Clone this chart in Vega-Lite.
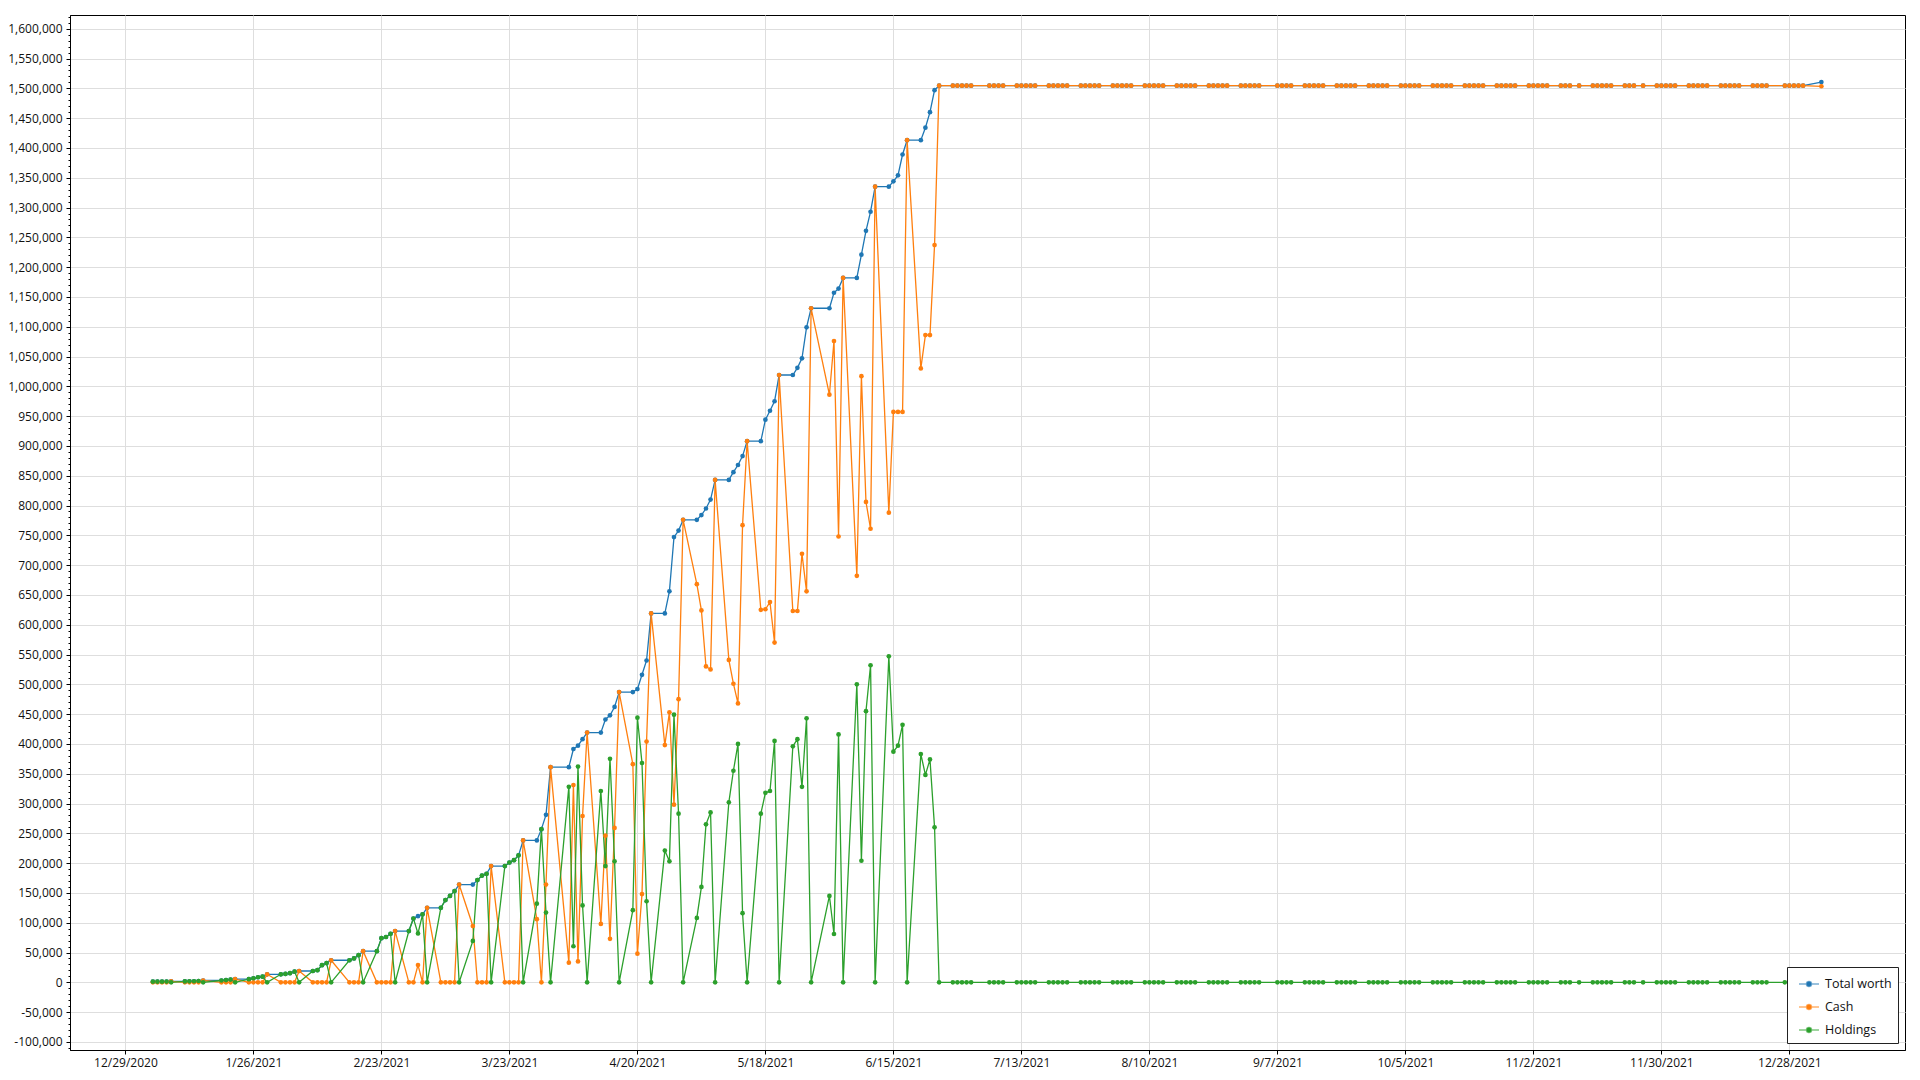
{
 "$schema": "https://vega.github.io/schema/vega-lite/v6.json",
 "width": 1835, "height": 1035,
 "autosize": {"type": "none"},
 "padding": {"left": 70, "top": 15, "right": 15, "bottom": 30},
 "background": "white",
 "config": {
  "view": {"stroke": "black", "strokeWidth": 1},
  "font": "Open Sans",
  "axis": {"labelFont": "Open Sans", "labelFontSize": 12, "labelColor": "#111", "domainColor": "black", "tickColor": "black", "gridColor": "#dedede", "gridWidth": 1}
 },
 "data": {"values": [
  {"date":"2021-01-04","Total worth":1000,"Cash":0,"Holdings":1000},
  {"date":"2021-01-05","Total worth":1050,"Cash":0,"Holdings":1050},
  {"date":"2021-01-06","Total worth":1100,"Cash":0,"Holdings":1100},
  {"date":"2021-01-07","Total worth":1200,"Cash":0,"Holdings":1200},
  {"date":"2021-01-08","Total worth":1500,"Cash":1500,"Holdings":0},
  {"date":"2021-01-11","Total worth":1500,"Cash":0,"Holdings":1500},
  {"date":"2021-01-12","Total worth":1600,"Cash":0,"Holdings":1600},
  {"date":"2021-01-13","Total worth":1800,"Cash":0,"Holdings":1800},
  {"date":"2021-01-14","Total worth":2200,"Cash":0,"Holdings":2200},
  {"date":"2021-01-15","Total worth":3000,"Cash":3000,"Holdings":0},
  {"date":"2021-01-19","Total worth":3000,"Cash":0,"Holdings":3000},
  {"date":"2021-01-20","Total worth":3700,"Cash":0,"Holdings":3700},
  {"date":"2021-01-21","Total worth":4500,"Cash":0,"Holdings":4500},
  {"date":"2021-01-22","Total worth":5200,"Cash":5200,"Holdings":0},
  {"date":"2021-01-25","Total worth":5200,"Cash":0,"Holdings":5200},
  {"date":"2021-01-26","Total worth":6800,"Cash":0,"Holdings":6800},
  {"date":"2021-01-27","Total worth":8500,"Cash":0,"Holdings":8500},
  {"date":"2021-01-28","Total worth":9400,"Cash":0,"Holdings":9400},
  {"date":"2021-01-29","Total worth":13400,"Cash":13400,"Holdings":0},
  {"date":"2021-02-01","Total worth":13400,"Cash":0,"Holdings":13400},
  {"date":"2021-02-02","Total worth":14000,"Cash":0,"Holdings":14000},
  {"date":"2021-02-03","Total worth":15300,"Cash":0,"Holdings":15300},
  {"date":"2021-02-04","Total worth":17800,"Cash":0,"Holdings":17800},
  {"date":"2021-02-05","Total worth":19000,"Cash":19000,"Holdings":0},
  {"date":"2021-02-08","Total worth":19000,"Cash":0,"Holdings":19000},
  {"date":"2021-02-09","Total worth":20400,"Cash":0,"Holdings":20400},
  {"date":"2021-02-10","Total worth":28800,"Cash":0,"Holdings":28800},
  {"date":"2021-02-11","Total worth":32200,"Cash":0,"Holdings":32200},
  {"date":"2021-02-12","Total worth":37000,"Cash":37000,"Holdings":0},
  {"date":"2021-02-16","Total worth":37000,"Cash":0,"Holdings":37000},
  {"date":"2021-02-17","Total worth":40000,"Cash":0,"Holdings":40000},
  {"date":"2021-02-18","Total worth":45500,"Cash":0,"Holdings":45500},
  {"date":"2021-02-19","Total worth":52200,"Cash":52200,"Holdings":0},
  {"date":"2021-02-22","Total worth":52200,"Cash":0,"Holdings":52200},
  {"date":"2021-02-23","Total worth":74000,"Cash":0,"Holdings":74000},
  {"date":"2021-02-24","Total worth":76000,"Cash":0,"Holdings":76000},
  {"date":"2021-02-25","Total worth":81500,"Cash":0,"Holdings":81500},
  {"date":"2021-02-26","Total worth":86000,"Cash":86000,"Holdings":0},
  {"date":"2021-03-01","Total worth":86000,"Cash":0,"Holdings":86000},
  {"date":"2021-03-02","Total worth":107000,"Cash":0,"Holdings":107000},
  {"date":"2021-03-03","Total worth":111000,"Cash":29000,"Holdings":82000},
  {"date":"2021-03-04","Total worth":114000,"Cash":0,"Holdings":114000},
  {"date":"2021-03-05","Total worth":125000,"Cash":125000,"Holdings":0},
  {"date":"2021-03-08","Total worth":125000,"Cash":0,"Holdings":125000},
  {"date":"2021-03-09","Total worth":138000,"Cash":0,"Holdings":138000},
  {"date":"2021-03-10","Total worth":145000,"Cash":0,"Holdings":145000},
  {"date":"2021-03-11","Total worth":153000,"Cash":0,"Holdings":153000},
  {"date":"2021-03-12","Total worth":164000,"Cash":164000,"Holdings":0},
  {"date":"2021-03-15","Total worth":164000,"Cash":94500,"Holdings":69500},
  {"date":"2021-03-16","Total worth":171500,"Cash":0,"Holdings":171500},
  {"date":"2021-03-17","Total worth":179000,"Cash":0,"Holdings":179000},
  {"date":"2021-03-18","Total worth":182000,"Cash":0,"Holdings":182000},
  {"date":"2021-03-19","Total worth":195000,"Cash":195000,"Holdings":0},
  {"date":"2021-03-22","Total worth":195000,"Cash":0,"Holdings":195000},
  {"date":"2021-03-23","Total worth":201000,"Cash":0,"Holdings":201000},
  {"date":"2021-03-24","Total worth":205000,"Cash":0,"Holdings":205000},
  {"date":"2021-03-25","Total worth":213000,"Cash":0,"Holdings":213000},
  {"date":"2021-03-26","Total worth":238000,"Cash":238000,"Holdings":0},
  {"date":"2021-03-29","Total worth":238000,"Cash":106000,"Holdings":132000},
  {"date":"2021-03-30","Total worth":257000,"Cash":0,"Holdings":257000},
  {"date":"2021-03-31","Total worth":281000,"Cash":164000,"Holdings":117000},
  {"date":"2021-04-01","Total worth":361000,"Cash":361000,"Holdings":0},
  {"date":"2021-04-05","Total worth":361000,"Cash":33000,"Holdings":328000},
  {"date":"2021-04-06","Total worth":391500,"Cash":331000,"Holdings":60500},
  {"date":"2021-04-07","Total worth":397000,"Cash":35000,"Holdings":362000},
  {"date":"2021-04-08","Total worth":408000,"Cash":279000,"Holdings":129000},
  {"date":"2021-04-09","Total worth":419000,"Cash":419000,"Holdings":0},
  {"date":"2021-04-12","Total worth":419000,"Cash":98000,"Holdings":321000},
  {"date":"2021-04-13","Total worth":441000,"Cash":246000,"Holdings":195000},
  {"date":"2021-04-14","Total worth":448000,"Cash":73000,"Holdings":375000},
  {"date":"2021-04-15","Total worth":462000,"Cash":259000,"Holdings":203000},
  {"date":"2021-04-16","Total worth":487000,"Cash":487000,"Holdings":0},
  {"date":"2021-04-19","Total worth":487000,"Cash":366000,"Holdings":121000},
  {"date":"2021-04-20","Total worth":492000,"Cash":48000,"Holdings":444000},
  {"date":"2021-04-21","Total worth":516000,"Cash":148000,"Holdings":368000},
  {"date":"2021-04-22","Total worth":540000,"Cash":404000,"Holdings":136000},
  {"date":"2021-04-23","Total worth":619000,"Cash":619000,"Holdings":0},
  {"date":"2021-04-26","Total worth":619000,"Cash":398000,"Holdings":221000},
  {"date":"2021-04-27","Total worth":656000,"Cash":453000,"Holdings":203000},
  {"date":"2021-04-28","Total worth":747000,"Cash":298000,"Holdings":449000},
  {"date":"2021-04-29","Total worth":758000,"Cash":475000,"Holdings":283000},
  {"date":"2021-04-30","Total worth":776000,"Cash":776000,"Holdings":0},
  {"date":"2021-05-03","Total worth":776000,"Cash":668000,"Holdings":108000},
  {"date":"2021-05-04","Total worth":784000,"Cash":624000,"Holdings":160000},
  {"date":"2021-05-05","Total worth":795000,"Cash":530000,"Holdings":265000},
  {"date":"2021-05-06","Total worth":810000,"Cash":525000,"Holdings":285000},
  {"date":"2021-05-07","Total worth":843000,"Cash":843000,"Holdings":0},
  {"date":"2021-05-10","Total worth":843000,"Cash":541000,"Holdings":302000},
  {"date":"2021-05-11","Total worth":856000,"Cash":501000,"Holdings":355000},
  {"date":"2021-05-12","Total worth":868000,"Cash":468000,"Holdings":400000},
  {"date":"2021-05-13","Total worth":883000,"Cash":767000,"Holdings":116000},
  {"date":"2021-05-14","Total worth":908000,"Cash":908000,"Holdings":0},
  {"date":"2021-05-17","Total worth":908000,"Cash":625000,"Holdings":283000},
  {"date":"2021-05-18","Total worth":944000,"Cash":626000,"Holdings":318000},
  {"date":"2021-05-19","Total worth":959000,"Cash":638000,"Holdings":321000},
  {"date":"2021-05-20","Total worth":975000,"Cash":570000,"Holdings":405000},
  {"date":"2021-05-21","Total worth":1019000,"Cash":1019000,"Holdings":0},
  {"date":"2021-05-24","Total worth":1019000,"Cash":623000,"Holdings":396000},
  {"date":"2021-05-25","Total worth":1031000,"Cash":623000,"Holdings":408000},
  {"date":"2021-05-26","Total worth":1047000,"Cash":719000,"Holdings":328000},
  {"date":"2021-05-27","Total worth":1099000,"Cash":656000,"Holdings":443000},
  {"date":"2021-05-28","Total worth":1131000,"Cash":1131000,"Holdings":0},
  {"date":"2021-06-01","Total worth":1131000,"Cash":986000,"Holdings":145000},
  {"date":"2021-06-02","Total worth":1157000,"Cash":1076000,"Holdings":81000},
  {"date":"2021-06-03","Total worth":1164000,"Cash":748000,"Holdings":416000},
  {"date":"2021-06-04","Total worth":1182000,"Cash":1182000,"Holdings":0},
  {"date":"2021-06-07","Total worth":1182000,"Cash":682000,"Holdings":500000},
  {"date":"2021-06-08","Total worth":1221000,"Cash":1017000,"Holdings":204000},
  {"date":"2021-06-09","Total worth":1261000,"Cash":806000,"Holdings":455000},
  {"date":"2021-06-10","Total worth":1293000,"Cash":761000,"Holdings":532000},
  {"date":"2021-06-11","Total worth":1335000,"Cash":1335000,"Holdings":0},
  {"date":"2021-06-14","Total worth":1335000,"Cash":788000,"Holdings":547000},
  {"date":"2021-06-15","Total worth":1344000,"Cash":957000,"Holdings":387000},
  {"date":"2021-06-16","Total worth":1354000,"Cash":957000,"Holdings":397000},
  {"date":"2021-06-17","Total worth":1389000,"Cash":957000,"Holdings":432000},
  {"date":"2021-06-18","Total worth":1413000,"Cash":1413000,"Holdings":0},
  {"date":"2021-06-21","Total worth":1413000,"Cash":1030000,"Holdings":383000},
  {"date":"2021-06-22","Total worth":1434000,"Cash":1086000,"Holdings":348000},
  {"date":"2021-06-23","Total worth":1460000,"Cash":1086000,"Holdings":374000},
  {"date":"2021-06-24","Total worth":1497000,"Cash":1237000,"Holdings":260000},
  {"date":"2021-06-25","Total worth":1504500,"Cash":1504500,"Holdings":0},
  {"date":"2021-06-28","Total worth":1504500,"Cash":1504500,"Holdings":0},
  {"date":"2021-06-29","Total worth":1504500,"Cash":1504500,"Holdings":0},
  {"date":"2021-06-30","Total worth":1504500,"Cash":1504500,"Holdings":0},
  {"date":"2021-07-01","Total worth":1504500,"Cash":1504500,"Holdings":0},
  {"date":"2021-07-02","Total worth":1504500,"Cash":1504500,"Holdings":0},
  {"date":"2021-07-06","Total worth":1504500,"Cash":1504500,"Holdings":0},
  {"date":"2021-07-07","Total worth":1504500,"Cash":1504500,"Holdings":0},
  {"date":"2021-07-08","Total worth":1504500,"Cash":1504500,"Holdings":0},
  {"date":"2021-07-09","Total worth":1504500,"Cash":1504500,"Holdings":0},
  {"date":"2021-07-12","Total worth":1504500,"Cash":1504500,"Holdings":0},
  {"date":"2021-07-13","Total worth":1504500,"Cash":1504500,"Holdings":0},
  {"date":"2021-07-14","Total worth":1504500,"Cash":1504500,"Holdings":0},
  {"date":"2021-07-15","Total worth":1504500,"Cash":1504500,"Holdings":0},
  {"date":"2021-07-16","Total worth":1504500,"Cash":1504500,"Holdings":0},
  {"date":"2021-07-19","Total worth":1504500,"Cash":1504500,"Holdings":0},
  {"date":"2021-07-20","Total worth":1504500,"Cash":1504500,"Holdings":0},
  {"date":"2021-07-21","Total worth":1504500,"Cash":1504500,"Holdings":0},
  {"date":"2021-07-22","Total worth":1504500,"Cash":1504500,"Holdings":0},
  {"date":"2021-07-23","Total worth":1504500,"Cash":1504500,"Holdings":0},
  {"date":"2021-07-26","Total worth":1504500,"Cash":1504500,"Holdings":0},
  {"date":"2021-07-27","Total worth":1504500,"Cash":1504500,"Holdings":0},
  {"date":"2021-07-28","Total worth":1504500,"Cash":1504500,"Holdings":0},
  {"date":"2021-07-29","Total worth":1504500,"Cash":1504500,"Holdings":0},
  {"date":"2021-07-30","Total worth":1504500,"Cash":1504500,"Holdings":0},
  {"date":"2021-08-02","Total worth":1504500,"Cash":1504500,"Holdings":0},
  {"date":"2021-08-03","Total worth":1504500,"Cash":1504500,"Holdings":0},
  {"date":"2021-08-04","Total worth":1504500,"Cash":1504500,"Holdings":0},
  {"date":"2021-08-05","Total worth":1504500,"Cash":1504500,"Holdings":0},
  {"date":"2021-08-06","Total worth":1504500,"Cash":1504500,"Holdings":0},
  {"date":"2021-08-09","Total worth":1504500,"Cash":1504500,"Holdings":0},
  {"date":"2021-08-10","Total worth":1504500,"Cash":1504500,"Holdings":0},
  {"date":"2021-08-11","Total worth":1504500,"Cash":1504500,"Holdings":0},
  {"date":"2021-08-12","Total worth":1504500,"Cash":1504500,"Holdings":0},
  {"date":"2021-08-13","Total worth":1504500,"Cash":1504500,"Holdings":0},
  {"date":"2021-08-16","Total worth":1504500,"Cash":1504500,"Holdings":0},
  {"date":"2021-08-17","Total worth":1504500,"Cash":1504500,"Holdings":0},
  {"date":"2021-08-18","Total worth":1504500,"Cash":1504500,"Holdings":0},
  {"date":"2021-08-19","Total worth":1504500,"Cash":1504500,"Holdings":0},
  {"date":"2021-08-20","Total worth":1504500,"Cash":1504500,"Holdings":0},
  {"date":"2021-08-23","Total worth":1504500,"Cash":1504500,"Holdings":0},
  {"date":"2021-08-24","Total worth":1504500,"Cash":1504500,"Holdings":0},
  {"date":"2021-08-25","Total worth":1504500,"Cash":1504500,"Holdings":0},
  {"date":"2021-08-26","Total worth":1504500,"Cash":1504500,"Holdings":0},
  {"date":"2021-08-27","Total worth":1504500,"Cash":1504500,"Holdings":0},
  {"date":"2021-08-30","Total worth":1504500,"Cash":1504500,"Holdings":0},
  {"date":"2021-08-31","Total worth":1504500,"Cash":1504500,"Holdings":0},
  {"date":"2021-09-01","Total worth":1504500,"Cash":1504500,"Holdings":0},
  {"date":"2021-09-02","Total worth":1504500,"Cash":1504500,"Holdings":0},
  {"date":"2021-09-03","Total worth":1504500,"Cash":1504500,"Holdings":0},
  {"date":"2021-09-07","Total worth":1504500,"Cash":1504500,"Holdings":0},
  {"date":"2021-09-08","Total worth":1504500,"Cash":1504500,"Holdings":0},
  {"date":"2021-09-09","Total worth":1504500,"Cash":1504500,"Holdings":0},
  {"date":"2021-09-10","Total worth":1504500,"Cash":1504500,"Holdings":0},
  {"date":"2021-09-13","Total worth":1504500,"Cash":1504500,"Holdings":0},
  {"date":"2021-09-14","Total worth":1504500,"Cash":1504500,"Holdings":0},
  {"date":"2021-09-15","Total worth":1504500,"Cash":1504500,"Holdings":0},
  {"date":"2021-09-16","Total worth":1504500,"Cash":1504500,"Holdings":0},
  {"date":"2021-09-17","Total worth":1504500,"Cash":1504500,"Holdings":0},
  {"date":"2021-09-20","Total worth":1504500,"Cash":1504500,"Holdings":0},
  {"date":"2021-09-21","Total worth":1504500,"Cash":1504500,"Holdings":0},
  {"date":"2021-09-22","Total worth":1504500,"Cash":1504500,"Holdings":0},
  {"date":"2021-09-23","Total worth":1504500,"Cash":1504500,"Holdings":0},
  {"date":"2021-09-24","Total worth":1504500,"Cash":1504500,"Holdings":0},
  {"date":"2021-09-27","Total worth":1504500,"Cash":1504500,"Holdings":0},
  {"date":"2021-09-28","Total worth":1504500,"Cash":1504500,"Holdings":0},
  {"date":"2021-09-29","Total worth":1504500,"Cash":1504500,"Holdings":0},
  {"date":"2021-09-30","Total worth":1504500,"Cash":1504500,"Holdings":0},
  {"date":"2021-10-01","Total worth":1504500,"Cash":1504500,"Holdings":0},
  {"date":"2021-10-04","Total worth":1504500,"Cash":1504500,"Holdings":0},
  {"date":"2021-10-05","Total worth":1504500,"Cash":1504500,"Holdings":0},
  {"date":"2021-10-06","Total worth":1504500,"Cash":1504500,"Holdings":0},
  {"date":"2021-10-07","Total worth":1504500,"Cash":1504500,"Holdings":0},
  {"date":"2021-10-08","Total worth":1504500,"Cash":1504500,"Holdings":0},
  {"date":"2021-10-11","Total worth":1504500,"Cash":1504500,"Holdings":0},
  {"date":"2021-10-12","Total worth":1504500,"Cash":1504500,"Holdings":0},
  {"date":"2021-10-13","Total worth":1504500,"Cash":1504500,"Holdings":0},
  {"date":"2021-10-14","Total worth":1504500,"Cash":1504500,"Holdings":0},
  {"date":"2021-10-15","Total worth":1504500,"Cash":1504500,"Holdings":0},
  {"date":"2021-10-18","Total worth":1504500,"Cash":1504500,"Holdings":0},
  {"date":"2021-10-19","Total worth":1504500,"Cash":1504500,"Holdings":0},
  {"date":"2021-10-20","Total worth":1504500,"Cash":1504500,"Holdings":0},
  {"date":"2021-10-21","Total worth":1504500,"Cash":1504500,"Holdings":0},
  {"date":"2021-10-22","Total worth":1504500,"Cash":1504500,"Holdings":0},
  {"date":"2021-10-25","Total worth":1504500,"Cash":1504500,"Holdings":0},
  {"date":"2021-10-26","Total worth":1504500,"Cash":1504500,"Holdings":0},
  {"date":"2021-10-27","Total worth":1504500,"Cash":1504500,"Holdings":0},
  {"date":"2021-10-28","Total worth":1504500,"Cash":1504500,"Holdings":0},
  {"date":"2021-10-29","Total worth":1504500,"Cash":1504500,"Holdings":0},
  {"date":"2021-11-01","Total worth":1504500,"Cash":1504500,"Holdings":0},
  {"date":"2021-11-02","Total worth":1504500,"Cash":1504500,"Holdings":0},
  {"date":"2021-11-03","Total worth":1504500,"Cash":1504500,"Holdings":0},
  {"date":"2021-11-04","Total worth":1504500,"Cash":1504500,"Holdings":0},
  {"date":"2021-11-05","Total worth":1504500,"Cash":1504500,"Holdings":0},
  {"date":"2021-11-08","Total worth":1504500,"Cash":1504500,"Holdings":0},
  {"date":"2021-11-09","Total worth":1504500,"Cash":1504500,"Holdings":0},
  {"date":"2021-11-10","Total worth":1504500,"Cash":1504500,"Holdings":0},
  {"date":"2021-11-12","Total worth":1504500,"Cash":1504500,"Holdings":0},
  {"date":"2021-11-15","Total worth":1504500,"Cash":1504500,"Holdings":0},
  {"date":"2021-11-16","Total worth":1504500,"Cash":1504500,"Holdings":0},
  {"date":"2021-11-17","Total worth":1504500,"Cash":1504500,"Holdings":0},
  {"date":"2021-11-18","Total worth":1504500,"Cash":1504500,"Holdings":0},
  {"date":"2021-11-19","Total worth":1504500,"Cash":1504500,"Holdings":0},
  {"date":"2021-11-22","Total worth":1504500,"Cash":1504500,"Holdings":0},
  {"date":"2021-11-23","Total worth":1504500,"Cash":1504500,"Holdings":0},
  {"date":"2021-11-24","Total worth":1504500,"Cash":1504500,"Holdings":0},
  {"date":"2021-11-26","Total worth":1504500,"Cash":1504500,"Holdings":0},
  {"date":"2021-11-29","Total worth":1504500,"Cash":1504500,"Holdings":0},
  {"date":"2021-11-30","Total worth":1504500,"Cash":1504500,"Holdings":0},
  {"date":"2021-12-01","Total worth":1504500,"Cash":1504500,"Holdings":0},
  {"date":"2021-12-02","Total worth":1504500,"Cash":1504500,"Holdings":0},
  {"date":"2021-12-03","Total worth":1504500,"Cash":1504500,"Holdings":0},
  {"date":"2021-12-06","Total worth":1504500,"Cash":1504500,"Holdings":0},
  {"date":"2021-12-07","Total worth":1504500,"Cash":1504500,"Holdings":0},
  {"date":"2021-12-08","Total worth":1504500,"Cash":1504500,"Holdings":0},
  {"date":"2021-12-09","Total worth":1504500,"Cash":1504500,"Holdings":0},
  {"date":"2021-12-10","Total worth":1504500,"Cash":1504500,"Holdings":0},
  {"date":"2021-12-13","Total worth":1504500,"Cash":1504500,"Holdings":0},
  {"date":"2021-12-14","Total worth":1504500,"Cash":1504500,"Holdings":0},
  {"date":"2021-12-15","Total worth":1504500,"Cash":1504500,"Holdings":0},
  {"date":"2021-12-16","Total worth":1504500,"Cash":1504500,"Holdings":0},
  {"date":"2021-12-17","Total worth":1504500,"Cash":1504500,"Holdings":0},
  {"date":"2021-12-20","Total worth":1504500,"Cash":1504500,"Holdings":0},
  {"date":"2021-12-21","Total worth":1504500,"Cash":1504500,"Holdings":0},
  {"date":"2021-12-22","Total worth":1504500,"Cash":1504500,"Holdings":0},
  {"date":"2021-12-23","Total worth":1504500,"Cash":1504500,"Holdings":0},
  {"date":"2021-12-27","Total worth":1504500,"Cash":1504500,"Holdings":0},
  {"date":"2021-12-28","Total worth":1504500,"Cash":1504500,"Holdings":0},
  {"date":"2021-12-29","Total worth":1504500,"Cash":1504500,"Holdings":0},
  {"date":"2021-12-30","Total worth":1504500,"Cash":1504500,"Holdings":0},
  {"date":"2021-12-31","Total worth":1504500,"Cash":1504500,"Holdings":0},
  {"date":"2022-01-04","Total worth":1510500,"Cash":1503500,"Holdings":7000}
 ]},
 "transform": [{"fold": ["Total worth", "Cash", "Holdings"], "as": ["series", "value"]}],
 "encoding": {
  "x": {"field": "date", "type": "temporal",
   "scale": {"type": "utc", "domain": [{"year": 2020, "month": 12, "date": 16, "hours": 21, "utc": true}, {"year": 2022, "month": 1, "date": 22, "hours": 7, "utc": true}]},
   "axis": {"title": null, "labelExpr": "utcFormat(datum.value, '%-m/%-d/%Y')", "grid": true, "tickSize": 4, "labelPadding": 3, "labelAngle": 0, "labelOverlap": false, "labelFlush": false,
    "values": [
     {"year": 2020, "month": 12, "date": 29, "utc": true},
     {"year": 2021, "month": 1, "date": 26, "utc": true},
     {"year": 2021, "month": 2, "date": 23, "utc": true},
     {"year": 2021, "month": 3, "date": 23, "utc": true},
     {"year": 2021, "month": 4, "date": 20, "utc": true},
     {"year": 2021, "month": 5, "date": 18, "utc": true},
     {"year": 2021, "month": 6, "date": 15, "utc": true},
     {"year": 2021, "month": 7, "date": 13, "utc": true},
     {"year": 2021, "month": 8, "date": 10, "utc": true},
     {"year": 2021, "month": 9, "date": 7, "utc": true},
     {"year": 2021, "month": 10, "date": 5, "utc": true},
     {"year": 2021, "month": 11, "date": 2, "utc": true},
     {"year": 2021, "month": 11, "date": 30, "utc": true},
     {"year": 2021, "month": 12, "date": 28, "utc": true}
    ]}},
  "y": {"field": "value", "type": "quantitative",
   "scale": {"domain": [-113600, 1623100], "nice": false, "zero": false},
   "axis": {"title": null, "tickCount": 174, "grid": true, "labelOverlap": false, "labelPadding": 4,
    "labelExpr": "datum.value % 50000 === 0 ? replace(format(datum.value, ','), '−', '-') : ''",
    "gridOpacity": {"condition": {"test": "datum.value % 50000 === 0", "value": 1}, "value": 0},
    "tickSize": {"condition": {"test": "datum.value % 50000 === 0", "value": 4}, "value": 2}}},
  "color": {"field": "series", "type": "nominal",
   "scale": {"domain": ["Total worth", "Cash", "Holdings"], "range": ["#1f77b4", "#ff7f0e", "#2ca02c"]}}
 },
 "layer": [
  {"mark": {"type": "line", "strokeWidth": 1.3},
   "encoding": {"color": {"field": "series", "type": "nominal",
    "scale": {"domain": ["Total worth", "Cash", "Holdings"], "range": ["#1f77b4", "#ff7f0e", "#2ca02c"]},
    "legend": {"title": null, "orient": "bottom-right", "offset": 7, "padding": 6, "fillColor": "white", "strokeColor": "#222",
     "symbolSize": 400, "symbolOffset": 5, "labelOffset": 5, "rowPadding": 5, "labelFontSize": 12.5, "labelFont": "Open Sans", "labelColor": "#111",
     "symbolType": "M-1,0H1M0.25,0A0.25,0.25,0,1,1,-0.25,0A0.25,0.25,0,1,1,0.25,0Z",
     "encode": {"symbols": {"update": {"fill": {"scale": "color", "field": "value"}, "stroke": {"scale": "color", "field": "value"}, "strokeWidth": {"value": 1.5}, "strokeOpacity": {"value": 0.6}, "fillOpacity": {"value": 1}, "opacity": {"value": 1}}}}}}}},
  {"mark": {"type": "point", "filled": true, "size": 22, "opacity": 1},
   "encoding": {"color": {"field": "series", "type": "nominal", "legend": null}}}
 ]
}
